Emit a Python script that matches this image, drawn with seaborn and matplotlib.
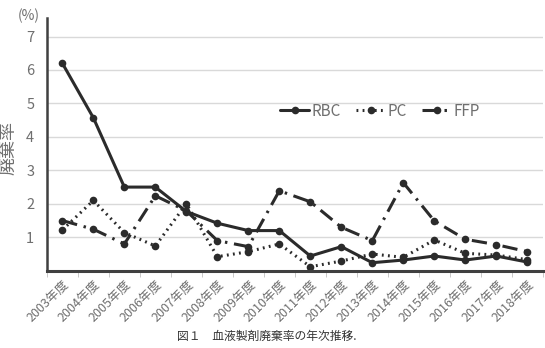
import matplotlib
matplotlib.use("Agg")
import matplotlib.pyplot as plt
import numpy as np
import pandas as pd
import seaborn as sns

# data
years = [f"{y}年度" for y in range(2003, 2019)]
rbc = [6.2, 4.57, 2.5, 2.5, 1.77, 1.42, 1.2, 1.2, 0.44, 0.72, 0.24, 0.32, 0.44, 0.32, 0.44, 0.26]
pc = [1.22, 2.1, 1.14, 0.74, 2.0, 0.42, 0.57, 0.8, 0.12, 0.29, 0.5, 0.4, 0.92, 0.52, 0.47, 0.33]
ffp = [1.5, 1.24, 0.8, 2.24, 1.79, 0.9, 0.72, 2.39, 2.06, 1.3, 0.9, 2.63, 1.49, 0.94, 0.78, 0.57]

sns.set_style("white")
plt.rcParams['font.family'] = ['Noto Sans CJK JP', 'DejaVu Sans']

df = pd.DataFrame({"idx": np.arange(len(years)), "RBC": rbc, "PC": pc, "FFP": ffp})

fig = plt.figure(figsize=(5.45, 3.48), dpi=100)
ax = fig.add_axes([0.086, 0.222, 0.910, 0.726])

ink = "#2b2b2b"
grey = "#6f6f6f"
styles = {"RBC": "-", "PC": (0, (0.6, 1.4)), "FFP": (0, (5, 2.2, 0.8, 2.2))}
for name in ["RBC", "PC", "FFP"]:
    sns.lineplot(data=df, x="idx", y=name, ax=ax, color=ink, lw=2.2,
                 linestyle=styles[name], marker="o", markersize=5.5,
                 markeredgewidth=0, label=name)

ax.set_xlim(-0.5, len(years) - 0.5)
ax.set_ylim(0, 7.55)
ax.set_yticks(range(1, 8))
ax.set_xticks(np.arange(len(years)))
ax.set_xticklabels(years, rotation=45, ha="right", rotation_mode="anchor",
                   fontsize=9, color=grey)
ax.set_xticks(np.arange(len(years) + 1) - 0.5, minor=True)
ax.tick_params(axis="x", which="major", length=0, pad=5)
ax.tick_params(axis="x", which="minor", length=4, color="#bfbfbf", direction="out", bottom=True)
ax.tick_params(axis="y", length=0, labelsize=10.5, labelcolor=grey, pad=9)
ax.grid(axis="y", color="#d9d9d9", lw=1)
ax.set_xlabel("")
ax.set_ylabel("")
for s in ["top", "right"]:
    ax.spines[s].set_visible(False)
ax.spines["left"].set_color("#404040")
ax.spines["left"].set_linewidth(1.8)
ax.spines["bottom"].set_color("#404040")
ax.spines["bottom"].set_linewidth(2.2)

ax.legend(loc="center", bbox_to_anchor=(0.697, 0.681), bbox_transform=fig.transFigure,
          ncol=3, frameon=False, fontsize=11, handlelength=1.9, handletextpad=0.15,
          columnspacing=1.0, labelcolor=grey)

fig.text(0.016, 0.575, "廃棄率", rotation=90, ha="center", va="center",
         fontsize=13, color=grey)
fig.text(0.052, 0.955, "(%)", ha="center", va="center", fontsize=10, color=grey)
fig.text(0.49, 0.032, "図１　血液製剤廃棄率の年次推移.", ha="center", va="center",
         fontsize=8.5, color="#333333")

fig.savefig("out.png", dpi=100)
